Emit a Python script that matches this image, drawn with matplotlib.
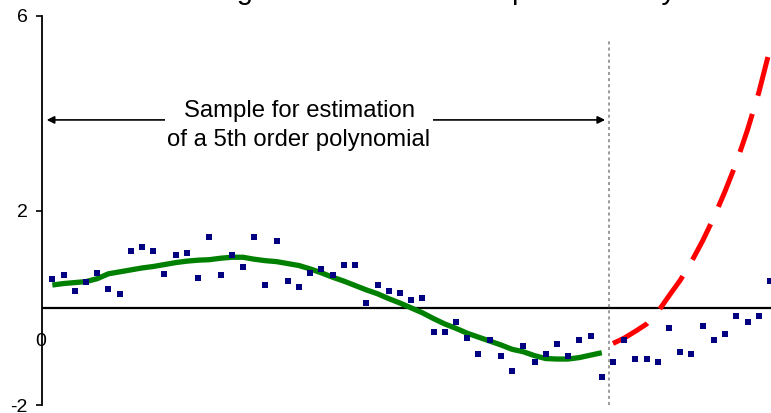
import matplotlib
matplotlib.use("Agg")
import matplotlib.pyplot as plt
import numpy as np

plt.rcParams['font.family'] = ['Liberation Sans', 'DejaVu Sans']

# ---- data -------------------------------------------------------------
obs_y = [0.59, 0.67, 0.34, 0.54, 0.71, 0.38, 0.29, 1.16, 1.25, 1.16,
         0.70, 1.08, 1.12, 0.62, 1.46, 0.67, 1.08, 0.84, 1.46, 0.47,
         1.38, 0.55, 0.43, 0.71, 0.80, 0.67, 0.88, 0.88, 0.10, 0.47,
         0.34, 0.30, 0.17, 0.21, -0.49, -0.49, -0.29, -0.62, -0.95, -0.66,
         -0.99, -1.29, -0.78, -1.12, -0.95, -0.74, -0.99, -0.66, -0.58, -1.41,
         -1.12, -0.66, -1.04, -1.04, -1.12, -0.41, -0.91, -0.95, -0.37, -0.66,
         -0.53, -0.16, -0.29, -0.16, 0.55]
obs_x = list(range(1, len(obs_y) + 1))

fit_y = [0.47, 0.50, 0.52, 0.54, 0.60, 0.70, 0.74, 0.78, 0.82, 0.85,
         0.89, 0.93, 0.96, 0.98, 0.99, 1.02, 1.04, 1.04, 1.00, 0.97,
         0.95, 0.91, 0.87, 0.80, 0.72, 0.63, 0.55, 0.46, 0.37, 0.29,
         0.19, 0.10, 0.00, -0.10, -0.22, -0.33, -0.42, -0.52, -0.60, -0.68,
         -0.76, -0.85, -0.90, -0.98, -1.04, -1.05, -1.05, -1.02, -0.97, -0.92]
fit_x = list(range(1, len(fit_y) + 1))

fc_y = [-0.73, -0.62, -0.48, -0.33, -0.08, 0.25, 0.57, 0.95, 1.38, 1.86,
        2.40, 2.98, 3.66, 4.42, 5.32, 6.50]
fc_x = list(range(51, 51 + len(fc_y)))

split_x = 50.6
split_top = 5.5
arrow_y = 3.86
label_x = 23.0
label_y = 3.74

ytick_vals = [-2, 2, 6]
ytick_labels = ['-2', '2', '6']

title_text = "Overfitting reduces out-of-sample accuracy"
note_text = "Sample for estimation\nof a 5th order polynomial"

# ---- figure -----------------------------------------------------------
fig = plt.figure(figsize=(7.71, 4.13), dpi=100)
ax = fig.add_axes([42 / 771, 1 - 405.3 / 413, 1 - 42 / 771, (405.3 - 15.7) / 413])
ax.set_xlim(0.08, 65.09)
ax.set_ylim(-2, 6)

ax.axhline(0, color='black', lw=1.6, zorder=2)
ax.plot([split_x, split_x], [-2, split_top], color='#808080', lw=1.1,
        linestyle=(0, (2, 2)), zorder=2)

ax.plot(fit_x, fit_y, color='#008000', lw=3.8, solid_capstyle='butt', zorder=3)
ax.plot(fc_x, fc_y, color='#ff0000', lw=3.6, dashes=(8.0, 3.8), zorder=3)
ax.plot(obs_x, obs_y, linestyle='none', marker='s', markersize=4.9,
        color='#000080', markeredgewidth=0, zorder=4)

# arrow + note
ax.annotate('', xy=(0.5, arrow_y), xytext=(50.3, arrow_y),
            arrowprops=dict(arrowstyle='<|-|>', color='black', lw=1.2,
                            mutation_scale=11, shrinkA=0, shrinkB=0), zorder=5)
ax.text(label_x, label_y, note_text, ha='center', va='center',
        fontsize=17.2, linespacing=1.4, zorder=6,
        bbox=dict(facecolor='white', edgecolor='none', pad=2))

# axes styling
for s in ['top', 'right', 'bottom']:
    ax.spines[s].set_visible(False)
ax.spines['left'].set_linewidth(1.3)
ax.set_xticks([])
ax.set_yticks(ytick_vals)
ax.set_yticklabels(ytick_labels)
ax.tick_params(axis='y', direction='out', length=4.3, width=1.2, pad=6,
               labelsize=14)
ax.text(-0.05, -0.69, '0', ha='center', va='center', fontsize=14, clip_on=False)

fig.text(398 / 771, 1 + 0.7 / 413, title_text, ha='center', va='baseline',
         fontsize=21)

fig.savefig('out.png', dpi=100)
